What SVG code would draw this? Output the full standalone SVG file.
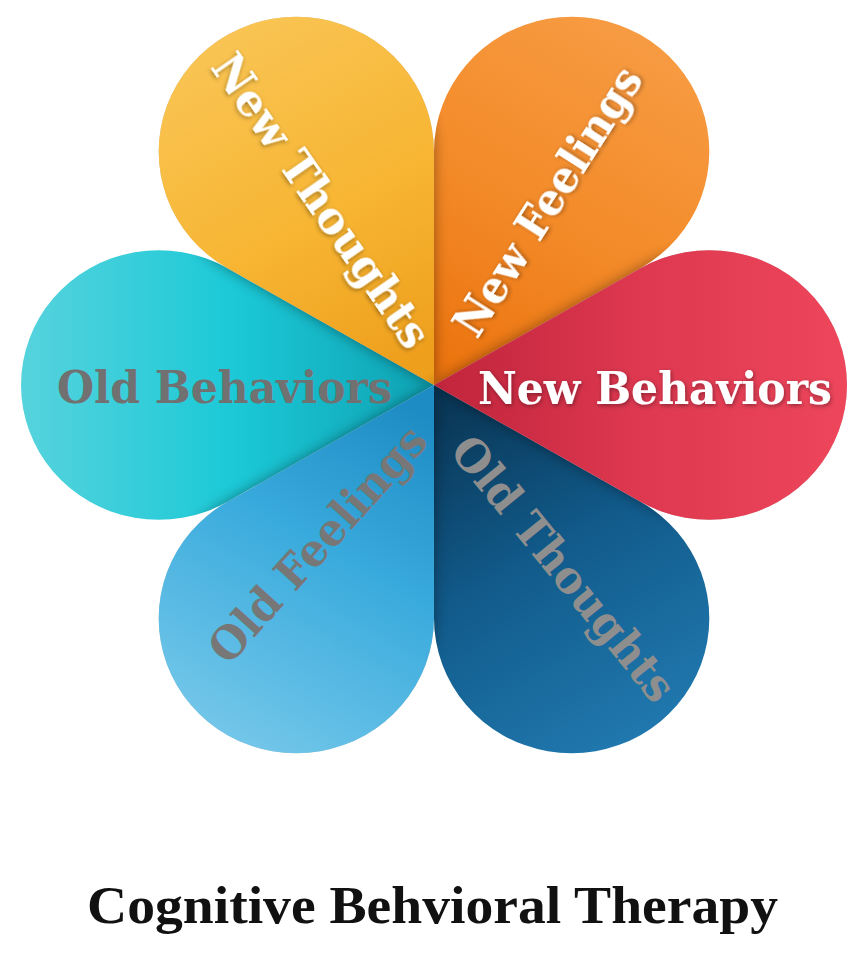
<svg xmlns="http://www.w3.org/2000/svg" xmlns:xlink="http://www.w3.org/1999/xlink" width="864" height="953" viewBox="0 0 864 953">
<style>
.lbl{font-family:"DejaVu Serif","Liberation Serif",serif;font-weight:bold;font-size:45px;}
.new{fill:#ffffff;filter:url(#txtShadow);}
.old{fill:#717171;}
.title{font-family:"Liberation Serif","DejaVu Serif",serif;font-weight:bold;font-size:53px;fill:#111111;}
</style>
<defs>
<path id="petal" d="M0,0 L206.5,-119.2 A137.65,137.65 0 1 1 206.5,119.2 Z"/>
<linearGradient id="gYellow" gradientUnits="userSpaceOnUse" x1="30" y1="0" x2="413" y2="0">
<stop offset="0" stop-color="#EE9F1C"/><stop offset="0.45" stop-color="#F7B532"/><stop offset="1" stop-color="#F9C453"/>
</linearGradient>
<linearGradient id="gOrange" gradientUnits="userSpaceOnUse" x1="30" y1="0" x2="413" y2="0">
<stop offset="0" stop-color="#EC7510"/><stop offset="0.45" stop-color="#F38A28"/><stop offset="1" stop-color="#F79B42"/>
</linearGradient>
<linearGradient id="gRed" gradientUnits="userSpaceOnUse" x1="30" y1="0" x2="413" y2="0">
<stop offset="0" stop-color="#C4273E"/><stop offset="0.45" stop-color="#DD3850"/><stop offset="1" stop-color="#EE465B"/>
</linearGradient>
<linearGradient id="gTeal" gradientUnits="userSpaceOnUse" x1="30" y1="0" x2="413" y2="0">
<stop offset="0" stop-color="#10A7B8"/><stop offset="0.45" stop-color="#1CC9D7"/><stop offset="1" stop-color="#56D3DD"/>
</linearGradient>
<linearGradient id="gLight" gradientUnits="userSpaceOnUse" x1="30" y1="0" x2="413" y2="0">
<stop offset="0" stop-color="#1D8CC4"/><stop offset="0.45" stop-color="#3AABDD"/><stop offset="1" stop-color="#72C6E9"/>
</linearGradient>
<linearGradient id="gDark" gradientUnits="userSpaceOnUse" x1="30" y1="0" x2="413" y2="0">
<stop offset="0" stop-color="#0A3858"/><stop offset="0.45" stop-color="#115A8A"/><stop offset="1" stop-color="#2078AE"/>
</linearGradient>
<clipPath id="flowerClip">
<use xlink:href="#petal"/>
<use xlink:href="#petal" transform="rotate(-60)"/>
<use xlink:href="#petal" transform="rotate(-120)"/>
<use xlink:href="#petal" transform="rotate(180)"/>
<use xlink:href="#petal" transform="rotate(120)"/>
<use xlink:href="#petal" transform="rotate(60)"/>
</clipPath>
<filter id="blur" x="-20%" y="-20%" width="140%" height="140%">
<feGaussianBlur stdDeviation="7"/>
</filter>
<filter id="txtShadow" x="-10%" y="-30%" width="120%" height="160%">
<feDropShadow dx="1" dy="1.5" stdDeviation="2.2" flood-color="#000000" flood-opacity="0.4"/>
</filter>
</defs>
<rect width="864" height="953" fill="#ffffff"/>

<g id="new-feelings">
<use xlink:href="#petal" transform="translate(434,385) scale(1,0.979) rotate(-60)" fill="url(#gOrange)"/>
<text class="lbl new" transform="translate(548,201.5) rotate(-57.4)" x="0" y="15" text-anchor="middle" textLength="310" lengthAdjust="spacingAndGlyphs">New Feelings</text>
</g>
<g id="old-behaviors">
<use xlink:href="#petal" transform="translate(434,385) scale(1,0.979) rotate(180)" fill="url(#gTeal)"/>
<text class="lbl old" x="57" y="403" textLength="335" lengthAdjust="spacingAndGlyphs">Old Behaviors</text>
</g>
<g id="old-thoughts">
<use xlink:href="#petal" transform="translate(434,385) scale(1,0.979) rotate(60)" fill="url(#gDark)"/>
<text class="lbl old" style="fill:#8E8E8E" transform="translate(563,569) rotate(51)" x="0" y="15" text-anchor="middle" textLength="327" lengthAdjust="spacingAndGlyphs">Old Thoughts</text>
</g>

<g id="new-thoughts">
<g transform="translate(434,385) scale(1,0.979)" clip-path="url(#flowerClip)">
<use xlink:href="#petal" transform="rotate(-120)" fill="#000000" opacity="0.4" filter="url(#blur)"/>
</g>
<use xlink:href="#petal" transform="translate(434,385) scale(1,0.979) rotate(-120)" fill="url(#gYellow)"/>
<text class="lbl new" transform="translate(321,201) rotate(55.2)" x="0" y="15" text-anchor="middle" textLength="347" lengthAdjust="spacingAndGlyphs">New Thoughts</text>
</g>
<g id="new-behaviors">
<g transform="translate(434,385) scale(1,0.979)" clip-path="url(#flowerClip)">
<use xlink:href="#petal" fill="#000000" opacity="0.4" filter="url(#blur)"/>
</g>
<use xlink:href="#petal" transform="translate(434,385) scale(1,0.979)" fill="url(#gRed)"/>
<text class="lbl new" x="478" y="404" textLength="354" lengthAdjust="spacingAndGlyphs">New Behaviors</text>
</g>
<g id="old-feelings">
<g transform="translate(434,385) scale(1,0.979)" clip-path="url(#flowerClip)">
<use xlink:href="#petal" transform="rotate(120)" fill="#000000" opacity="0.4" filter="url(#blur)"/>
</g>
<use xlink:href="#petal" transform="translate(434,385) scale(1,0.979) rotate(120)" fill="url(#gLight)"/>
<text class="lbl old" style="fill:#777777" transform="translate(318,544.5) rotate(-48)" x="0" y="15" text-anchor="middle" textLength="301" lengthAdjust="spacingAndGlyphs">Old Feelings</text>
</g>

<g id="connectors"></g>

<g id="title">
<text class="title" x="432.5" y="923" text-anchor="middle" textLength="691" lengthAdjust="spacingAndGlyphs">Cognitive Behvioral Therapy</text>
</g>
</svg>
